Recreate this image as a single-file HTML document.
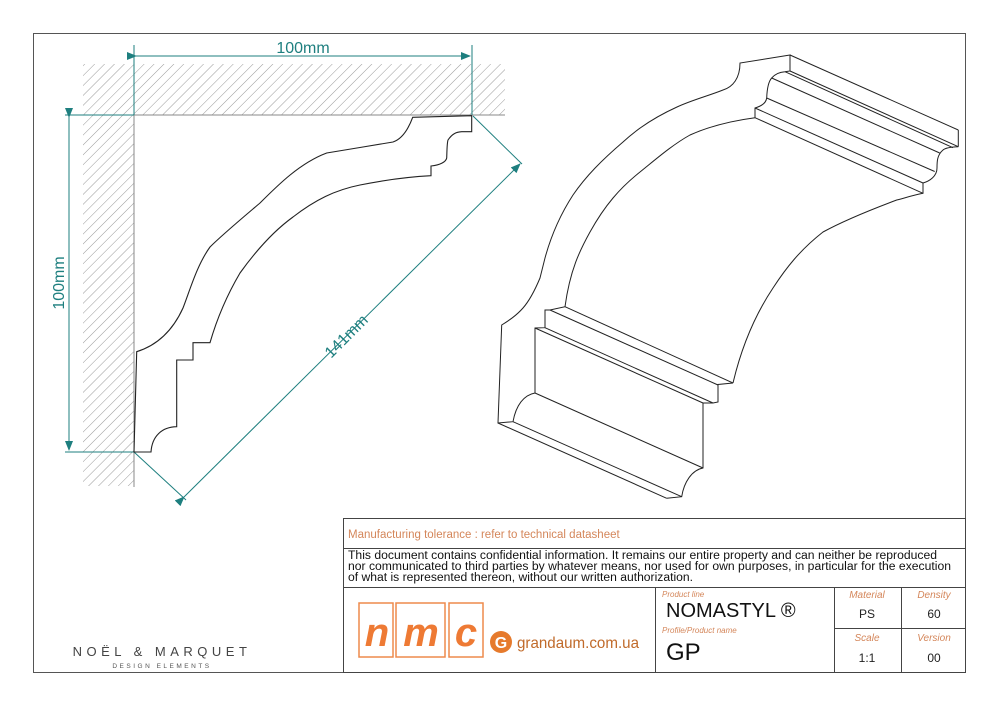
<!DOCTYPE html>
<html><head><meta charset="utf-8"><style>
html,body{margin:0;padding:0;background:#fff;}
svg{display:block;}
text{font-family:"Liberation Sans",sans-serif;}
</style></head><body>
<svg width="1000" height="707" viewBox="0 0 1000 707" xmlns="http://www.w3.org/2000/svg">
<defs>
<pattern id="h" width="7" height="7" patternUnits="userSpaceOnUse" patternTransform="rotate(45)">
<line x1="0" y1="0" x2="0" y2="7" stroke="#999" stroke-width="1"/>
</pattern>
<marker id="ar" markerWidth="10" markerHeight="8" refX="9" refY="4" orient="auto" markerUnits="userSpaceOnUse">
<path d="M0,0 L10,4 L0,8 z" fill="#1e7f7f"/>
</marker>
</defs>
<rect x="33.5" y="33.5" width="932" height="639" fill="none" stroke="#555" stroke-width="1"/>

<rect x="83" y="64" width="422" height="51" fill="url(#h)"/>
<rect x="83" y="115" width="51" height="371" fill="url(#h)"/>
<line x1="134" y1="115" x2="505" y2="115" stroke="#888" stroke-width="1"/>
<line x1="134" y1="115" x2="134" y2="487" stroke="#888" stroke-width="1"/>

<g stroke="#1e7f7f" stroke-width="1" fill="none">
<line x1="134" y1="45" x2="134" y2="115"/>
<line x1="472" y1="45" x2="472" y2="115"/>
<line x1="136" y1="56" x2="470" y2="56" marker-start="url(#ar)" marker-end="url(#ar)"/>
<line x1="65" y1="115" x2="134" y2="115"/>
<line x1="65" y1="452" x2="134" y2="452"/>
<line x1="69" y1="117" x2="69" y2="450" marker-start="url(#ar)" marker-end="url(#ar)"/>
<line x1="134" y1="452" x2="186" y2="500"/>
<line x1="473" y1="116" x2="522" y2="164"/>
<line x1="184" y1="497" x2="520" y2="164" marker-start="url(#ar)" marker-end="url(#ar)"/>
</g>
<text x="303" y="53" font-size="16" fill="#1e7f7f" text-anchor="middle">100mm</text>
<text x="0" y="0" font-size="16" fill="#1e7f7f" text-anchor="middle" transform="translate(64,283) rotate(-90)">100mm</text>
<text x="0" y="0" font-size="16" fill="#1e7f7f" text-anchor="middle" transform="translate(350,340) rotate(-45)">141mm</text>

<path d="M471.7,115.7 L412.7,117.3 C408,130 402,139 393,142 C370,146 350,149 326.7,153 C300,163 278,185 260,203 C240,220 222,235 210,247 C197,265 190,290 183,308 C173,330 158,345 136.7,351.7 L134,452 L151,452 C152,436 162,427 176.7,426.7 L176.7,360 L193,360 L193,342.7 L210,342.7 C218,315 230,290 240,273 C258,248 275,230 293,217 C315,200 335,190 360,185 C385,180 405,177 431,175.7 L431,166 C440,165 446,162 446.7,158 C447,150 447,143 448,140 C452,134 456,132 461.7,131.7 L471.7,131.7 Z" fill="#fff" stroke="#222" stroke-width="1.1"/>

<g fill="none" stroke="#222" stroke-width="1">
<path d="M790,55 L740,63 C740,78 733,87 723,90 C708,96 692,100 677,107 C655,117 638,128 623,142 C602,160 586,176 573,195 C560,215 551,236 545,258 C542,270 541,274 540,278 C535,290 530,300 523,308 C516,316 508,321 501.7,325 L498,423 L513,421.7 C516,405 524,395 535,393 L535,328 L545,327.7 L545,310 L550,310 L565,306.7 C570,270 580,250 590,232 C605,205 620,188 640,172 C655,160 672,145 690,135 C710,126 730,121 755,117.7 L755,108 C762,106 766,103 766.7,98 C767,90 768,82 771.7,78 C775,74 780,72 785,71.7 L790,71 Z"/>
<line x1="790" y1="55" x2="958.3" y2="130"/>
<line x1="958.3" y1="130" x2="958.3" y2="146.7"/>
<line x1="790" y1="71" x2="958.3" y2="146.7"/>
<line x1="785" y1="71.7" x2="953" y2="147.7"/>
<line x1="771.7" y1="78" x2="939.7" y2="153"/>
<line x1="766.7" y1="98" x2="934.7" y2="171.5"/>
<line x1="755" y1="108" x2="923" y2="183"/>
<line x1="755" y1="117.7" x2="923" y2="193.3"/>
<path d="M958.3,146.7 C950,147 945,148 943,150 C937,155 937,162 937,168 C937,176 930,181 923,183 L923,193.3 C910,196 905,198 896.7,200 C870,210 845,220 823,232 C800,250 786,268 773,288 C755,315 742,345 733,383"/>
<line x1="565" y1="306.7" x2="733" y2="383"/>
<line x1="550" y1="310" x2="718" y2="385"/>
<line x1="545" y1="327.7" x2="713" y2="403"/>
<line x1="535" y1="328" x2="703" y2="403"/>
<path d="M733,383 L718,384.5 L718,402 L713,403 L703,403 L703,468 C692,470 684,482 681.7,496.7 L666.7,498.3"/>
<line x1="535" y1="393" x2="703" y2="468"/>
<line x1="513" y1="421.7" x2="681.7" y2="496.7"/>
<line x1="498" y1="423" x2="666.7" y2="498.3"/>
</g>

<g stroke="#444" stroke-width="1" fill="none">
<rect x="343.5" y="518.5" width="622" height="154"/>
<line x1="343" y1="548.5" x2="966" y2="548.5"/>
<line x1="343" y1="587.5" x2="966" y2="587.5"/>
<line x1="655.5" y1="587" x2="655.5" y2="673"/>
<line x1="834.5" y1="587" x2="834.5" y2="673"/>
<line x1="901.5" y1="587" x2="901.5" y2="673"/>
<line x1="834" y1="628.5" x2="966" y2="628.5"/>
</g>
<text x="348" y="538" font-size="11.5" fill="#d4865a">Manufacturing tolerance : refer to technical datasheet</text>
<text font-size="11.5" fill="#111"><tspan x="348" y="559" textLength="589" lengthAdjust="spacingAndGlyphs">This document contains confidential information. It remains our entire property and can neither be reproduced</tspan><tspan x="348" y="570" textLength="603" lengthAdjust="spacingAndGlyphs">nor communicated to third parties by whatever means, nor used for own purposes, in particular for the execution</tspan><tspan x="348" y="581" textLength="345" lengthAdjust="spacingAndGlyphs">of what is represented thereon, without our written authorization.</tspan></text>

<g fill="none" stroke="#ee8a4c" stroke-width="1.5">
<rect x="359" y="603" width="34" height="54"/>
<rect x="396" y="603" width="49" height="54"/>
<rect x="449" y="603" width="34" height="54"/>
</g>
<g font-size="40" font-weight="bold" font-style="italic" fill="#ee7a34" text-anchor="middle">
<text x="377" y="646">n</text><text x="421" y="646">m</text><text x="466" y="646">c</text>
</g>
<circle cx="501" cy="642" r="11" fill="#e67a2c"/>
<text x="501" y="648" font-size="16" font-weight="bold" fill="#fff" text-anchor="middle">G</text>
<text x="517" y="648" font-size="16" fill="#c06a2a" textLength="122" lengthAdjust="spacingAndGlyphs">grandaum.com.ua</text>

<text x="662" y="597" font-size="8" font-style="italic" fill="#d4865a">Product line</text>
<text x="666" y="617" font-size="20" fill="#111">NOMASTYL ®</text>
<text x="662" y="633" font-size="8" font-style="italic" fill="#d4865a">Profile/Product name</text>
<text x="666" y="660" font-size="24" fill="#111">GP</text>
<g text-anchor="middle">
<text x="867" y="598" font-size="10" font-style="italic" fill="#d4865a">Material</text>
<text x="934" y="598" font-size="10" font-style="italic" fill="#d4865a">Density</text>
<text x="867" y="618" font-size="12" fill="#222">PS</text>
<text x="934" y="618" font-size="12" fill="#222">60</text>
<text x="867" y="641" font-size="10" font-style="italic" fill="#d4865a">Scale</text>
<text x="934" y="641" font-size="10" font-style="italic" fill="#d4865a">Version</text>
<text x="867" y="662" font-size="12" fill="#222">1:1</text>
<text x="934" y="662" font-size="12" fill="#222">00</text>
</g>

<text x="162" y="656" font-size="13" fill="#444" text-anchor="middle" letter-spacing="4.5">NOËL &amp; MARQUET</text>
<text x="162" y="668" font-size="6.5" fill="#555" text-anchor="middle" letter-spacing="2.5">DESIGN ELEMENTS</text>
</svg>
</body></html>
